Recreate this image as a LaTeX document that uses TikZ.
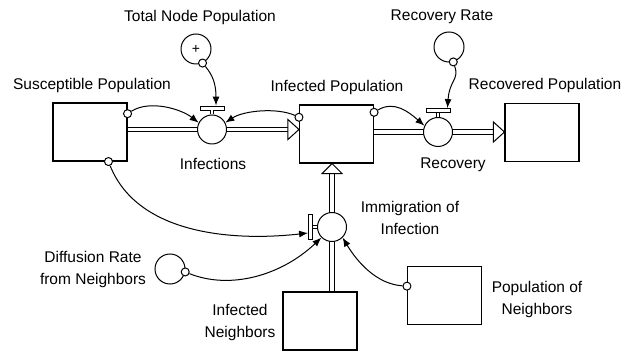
\documentclass[tikz,border=0pt]{standalone}
\usepackage{fontspec}
\setmainfont{Liberation Sans}
\usetikzlibrary{arrows.meta,positioning,backgrounds}

\begin{document}
\begin{tikzpicture}[x=1pt,y=-1pt,
    stock/.style={draw,line width=1.1pt,minimum width=74pt,minimum height=58pt,inner sep=0pt},
    valve/.style={draw,circle,line width=1pt,fill=white,minimum size=29pt,inner sep=0pt},
    aux/.style={draw,circle,line width=1pt,minimum size=30pt,inner sep=0pt},
    tap/.style={draw,line width=0.9pt,fill=white,inner sep=0pt},
    dot/.style={draw,circle,line width=1pt,fill=white,minimum size=8pt,inner sep=0pt},
    link/.style={line width=1pt,-{Latex[length=9pt,width=7pt]}},
    pipe/.style={line width=1pt,double distance=3.2pt},
    head/.style={line width=1pt,fill=white},
    lbl/.style={font=\fontsize{15.5}{22}\selectfont,align=center,inner sep=0pt}]

    \useasboundingbox (0,0) rectangle (626,352);

    % Stocks
    \node[stock] (sus) at (90,132) {};
    \node[stock] (inf) at (336.5,134) {};
    \node[stock] (rec) at (542,132.5) {};
    \node[stock] (infn) at (320,321) {};
    \node[stock] (popn) at (444.5,295.5) {};

    % Valves
    \node[valve] (vinf) at (212,129.5) {};
    \node[valve] (vrec) at (438,132) {};
    \node[valve] (vimm) at (332,227) {};

    % Valve handles
    \node[tap,minimum width=24pt,minimum height=4pt,above=4pt of vinf] (hinf) {};
    \node[tap,minimum width=24pt,minimum height=4pt,above=4pt of vrec] (hrec) {};
    \node[tap,minimum width=4pt,minimum height=25pt,left=4pt of vimm] (himm) {};
    \draw[line width=0.8pt,double distance=2pt] (hinf.south) -- (vinf.north);
    \draw[line width=0.8pt,double distance=2pt] (hrec.south) -- (vrec.north);
    \draw[line width=0.8pt,double distance=2pt] (himm.east) -- (vimm.west);

    % Auxiliaries
    \node[aux] (tot) at (196,49) {\fontsize{14}{14}\selectfont +};
    \node[aux] (rr) at (449,47) {};
    \node[aux] (dif) at (170,269) {};

    % Connector origins
    \node[dot] (dtot) at (tot.-65) {};
    \node[dot] (drr) at (rr.-74) {};
    \node[dot] (dsus) at (sus.26) {};
    \node[dot] (dsus2) at (sus.-58) {};
    \node[dot] (dinf1) at (inf.156) {};
    \node[dot] (dinf2) at (inf.30) {};
    \node[dot] (ddif) at (dif.-11) {};
    \node[dot] (dpop) at (popn.166) {};

    \coordinate (tipinf) at (inf.west |- vinf);
    \coordinate (tiprec) at (rec.west |- vrec);
    \coordinate (tipimm) at (inf.south -| vimm);

    \begin{scope}[on background layer]
        % Flows
        \draw[pipe] (sus.east |- vinf) -- ([xshift=-11pt]tipinf);
        \draw[pipe] (inf.east |- vrec) -- ([xshift=-11pt]tiprec);
        \draw[pipe] (infn.north -| vimm) -- ([yshift=-10pt]tipimm);

        % Connectors
        \draw[link] (dtot) .. controls +(10,12) and +(0,-22) .. ([xshift=4pt]hinf.north);
        \draw[link] (drr) .. controls +(6,18) and +(2,-28) .. ([xshift=-3pt]hrec.north east);
        \draw[link] (dsus) .. controls +(22,-14) and +(-18,-14) .. (vinf.153);
        \draw[link] (dinf1) .. controls +(-22,-10) and +(18,-12) .. (vinf.27);
        \draw[link] (dinf2) .. controls +(20,-12) and +(-16,-14) .. (vrec.155);
        \draw[link] (dsus2) .. controls +(30,75) and +(-70,8) .. ([yshift=-6pt]himm.west);
        \draw[link] (ddif) .. controls +(45,18) and +(-40,38) .. (vimm.-135);
        \draw[link] (dpop) .. controls +(-30,-2) and +(15,25) .. (vimm.-45);
    \end{scope}

    % Flow heads
    \draw[head] (tipinf) -- ++(-11,-10) -- ++(0,20) -- cycle;
    \draw[head] (tiprec) -- ++(-11,-10) -- ++(0,20) -- cycle;
    \draw[head] (tipimm) -- ++(-10,10) -- ++(20,0) -- cycle;

    % Labels
    \node[lbl] (ltot) at (200,17) {Total Node Population};
    \node[lbl] (lrr) at (442,17) {Recovery Rate};
    \node[lbl] (lsus) at (92,85) {Susceptible Population};
    \node[lbl] (linf) at (337,87) {Infected Population};
    \node[lbl] (lrec) at (545,85) {Recovered Population};
    \node[lbl] (lvinf) at (213,164) {Infections};
    \node[lbl] (lvrec) at (453,165) {Recovery};
    \node[lbl] (lvimm) at (410,218) {Immigration of\\Infection};
    \node[lbl] (ldif) at (93,269) {Diffusion Rate\\from Neighbors};
    \node[lbl] (linfn) at (240,322) {Infected\\Neighbors};
    \node[lbl] (lpopn) at (537,299) {Population of\\Neighbors};
\end{tikzpicture}
\end{document}
